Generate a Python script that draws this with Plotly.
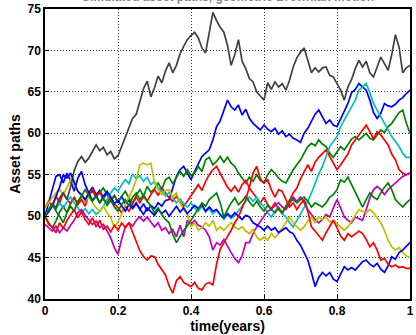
import numpy as np
import plotly.graph_objects as go

# time grid (years), one value per step
t = np.linspace(0, 1, 101)

grey_path = [50, 50.8, 51.5, 51, 52.2, 52.8, 52, 53.5, 55.5, 56.6, 57.2, 56.5, 57, 57.8, 58.6, 57.9, 58.3, 57.4, 57.8, 56.9,
             57.3, 58.4, 59.5, 60.6, 61.8, 62.3, 63.8, 65.4, 66.3, 64.4, 65.5, 66.9, 66.1, 67.5, 68.5, 67.3, 68.2, 69.6, 70.5, 71.3,
             71.8, 72.2, 71.5, 70.3, 69.7, 72.4, 74.6, 73.6, 72.8, 72.2, 70.6, 68.2, 69.5, 71.3, 68.7, 67.8, 66.6, 66.2, 65.0, 64.5,
             64.0, 66.1, 65.3, 66.2, 65.6, 66.0, 65.2, 66.4, 68.0, 69.1, 69.8, 70.3, 68.8, 67.3, 67.9, 67.4, 67.9, 68.0, 67.0, 66.8,
             66.0, 65.2, 64.0, 65.6, 66.5, 67.8, 68.8, 68.0, 68.7, 67.3, 66.8, 68.0, 69.2, 68.4, 67.6, 69.5, 71.9, 70.4, 67.3, 67.9, 68.2]

blue_high = [50, 51.5, 53, 54.8, 55, 54, 55.2, 54.3, 53, 54.6, 55.4, 53.8, 52.8, 53.5, 52.6, 53.1, 52.2, 52.8, 51.8, 52.5,
             51.6, 52.4, 51.5, 51.9, 51, 51.6, 50.8, 51.5, 50.6, 51.3, 50.9, 51.6, 51.2, 51.9, 52, 53.5, 54.8, 55.6, 56, 55.2,
             54.4, 55.4, 56.3, 57.2, 57.6, 58, 59.2, 60.8, 61.5, 62.8, 64, 63.2, 62.8, 63.4, 62.2, 62.9, 61.8, 61.2, 60.8, 60.4,
             61, 60.5, 60.2, 60.6, 59.9, 60.3, 59.6, 59.9, 59.4, 59.2, 58.9, 60, 60.6, 61.4, 62.3, 62.8, 62, 61.2, 61.6, 61,
             60.8, 61.8, 62.8, 63.6, 64.9, 65.3, 66, 65.6, 65.2, 64, 62.5, 61.8, 62.4, 63.6, 63.3, 63.2, 63.5, 64, 64.3, 64.8, 65.2]

blue_low = [50, 50.5, 51.2, 52.4, 53.5, 55, 54.6, 55.2, 54.2, 53, 52.6, 52, 52.8, 51.9, 52.5, 51.6, 52.4, 53, 52.3, 51.5,
            51.9, 51.2, 50.6, 51.4, 50.9, 51.5, 50.8, 50.2, 51, 50.5, 50.1, 50.8, 50.3, 50.7, 50, 50.6, 51.2, 50.5, 51, 50.3,
            50.8, 51.3, 50.9, 51.4, 50.6, 51.1, 50.6, 50.8, 50.2, 49.8, 50.3, 49.9, 50.4, 50, 49.6, 50.1, 49.9, 49.2, 49, 48.7,
            48.3, 48.8, 48.3, 48.6, 48, 48.3, 48.6, 48.1, 47.9, 47.1, 46.5, 45.6, 44.7, 43.2, 41.5, 42.6, 43.2, 42.8, 43.2, 42.4,
            42.1, 43, 43.9, 43.5, 43.8, 43.5, 44, 44.5, 44.7, 44.2, 43.9, 44.3, 43.6, 43.2, 44, 45.1, 44.8, 45.6, 45.9, 46.4, 46.8]

red_low = [50, 49, 48.7, 48, 49.2, 48.5, 49.5, 50.2, 50.8, 49.8, 50.5, 49.6, 49, 49.8, 48.7, 49.5, 48.4, 48.8, 48.1, 48.9,
           48.3, 49.2, 48.6, 49.2, 48, 47, 45.8, 45.1, 44.7, 45.2, 45.1, 44.2, 43.6, 42.9, 41.6, 40.7, 42.2, 42.7, 42, 41.8,
           41.5, 42, 41.3, 41.1, 41.8, 42, 41.7, 44.2, 46, 46.8, 47.5, 48.3, 49.2, 49.9, 51, 52, 53.5, 55.2, 56, 54.5,
           54, 54.4, 53.2, 52.3, 53.2, 53, 52, 51.1, 51.6, 50.8, 51.5, 52, 50.6, 48.7, 48.2, 47.6, 47.1, 48, 48.7, 49.5,
           48.6, 47.6, 47.1, 47.9, 47.5, 47.9, 48.2, 47.9, 47.2, 46.3, 46.8, 45.9, 44.7, 44.9, 44.2, 43.9, 44.1, 43.8, 43.9, 43.7, 43.7]

red_high = [51, 51.8, 51.2, 52.4, 51.6, 52.8, 52.1, 51.5, 52.3, 51.4, 52, 51.2, 52.6, 53.2, 52.4, 52.9, 52, 51.6, 52.3, 51.5,
            51, 50.4, 51.2, 50.6, 51.5, 52.3, 51.6, 52.4, 51.8, 52.6, 53.2, 52.5, 53.4, 52.8, 52.2, 51.8, 52.4, 51.7, 51.2, 51.8,
            52.5, 53.2, 53.8, 53.1, 54.2, 55, 55.6, 56, 55.1, 54.2, 53.5, 53, 53.6, 52.9, 53.8, 54.3, 53.4, 52.8, 52.2, 51.6,
            52.3, 51.4, 50.9, 51.6, 50.8, 50.3, 51.2, 51.9, 52.8, 53.4, 54.5, 55.3, 56.2, 55.4, 56.5, 57.1, 57.6, 58, 57.2, 56.3,
            55.6, 56.2, 56.8, 57.5, 58.6, 59.2, 59.8, 60.4, 61, 60.2, 59.3, 60.2, 59.8, 59.2, 58.6, 57.5, 56.8, 55.6, 55.2, 55, 55.2]

green_high = [50, 49.2, 48.6, 49.4, 50.5, 51.2, 50.4, 51.6, 52.2, 51.4, 52.6, 51.8, 52.5, 53.1, 52.3, 52.8, 53.4, 52.6, 51.9, 52.5,
              51.7, 52.4, 53, 52.2, 51.6, 52.5, 53.2, 52.4, 53.6, 52.9, 53.3, 54, 53.2, 54.4, 54.7, 53.9, 54.6, 55.4, 54.8, 55.6,
              54.9, 55.2, 56, 55.4, 56.8, 57.1, 56.2, 56.6, 57.2, 56.5, 57.1, 56.4, 56, 55.2, 54.6, 54, 54.7, 54.2, 55, 54.3,
              54, 55, 55.6, 55.2, 54.6, 54.2, 54, 54.9, 55.6, 56.2, 56.8, 57.6, 58.4, 58.8, 58.5, 59.2, 58.7, 58.4, 57.6, 57.1,
              57.8, 58.4, 58, 58.6, 59.3, 59.6, 59.2, 59.6, 60, 59.4, 59.2, 59.8, 60.4, 60.1, 60.8, 61.2, 61.9, 62.5, 62.8, 61.2, 60]

green_low = [50, 50.8, 51.5, 50.6, 50, 49.2, 50.4, 51.2, 50.6, 51.8, 52.4, 53.2, 52.5, 51.8, 52.4, 51.6, 52.2, 51.3, 51.9, 51.1,
             50.6, 51.4, 52, 51.2, 52.3, 52.8, 52, 52.6, 51.8, 51.2, 50.4, 51, 50.2, 49.6, 49.2, 47.8, 46.8, 47.6, 48.3, 48.8,
             49.5, 50.2, 50.9, 51.6, 51.2, 52, 52.4, 52.8, 51.6, 49.9, 50.8, 51.6, 52.2, 51.4, 51.8, 52.4, 51.7, 51.2, 51.8, 51.1,
             50.6, 51.3, 50.8, 50.4, 51, 50.4, 51.2, 51.9, 52, 51.6, 52, 52.3, 51.8, 51.1, 51.6, 51.3, 51.1, 51.6, 52.3, 52.6,
             53.2, 54.4, 54.1, 54.7, 53.8, 52.8, 52, 51.1, 52, 52.8, 52.3, 52, 52.8, 53.5, 54, 53.2, 52, 51.5, 51.1, 51.6, 52]

cyan_path = [50, 50.6, 51.4, 50.8, 51.6, 51, 51.7, 52.3, 51.6, 51, 50.4, 50.9, 50.3, 50.8, 50.2, 50.6, 51.2, 52, 52.8, 53.4,
             53, 53.8, 54.4, 53.9, 55.1, 54.5, 54.9, 54.2, 54.7, 53.8, 54.2, 53.4, 53, 52.4, 52.9, 52.2, 51.6, 52.1, 51.5, 51.1,
             51.6, 51, 50.6, 51.2, 50.5, 50.9, 50.3, 50.7, 50.1, 49.6, 50.2, 49.7, 50.1, 50.6, 51.2, 51.8, 52.3, 51.8, 52.3, 51.6,
             51.1, 50.4, 49.9, 50.6, 51.1, 50.3, 49.9, 49.2, 48.7, 49.5, 50.3, 51.1, 51.8, 52.8, 54, 55.1, 56, 57.2, 58.4, 59,
             59.6, 60.8, 61.6, 62.5, 63.3, 64, 65.2, 65.6, 66, 64.9, 63.6, 62.8, 62, 61.2, 60.4, 59.6, 59, 58.4, 57.6, 57.1, 57.1]

magenta_path = [49, 48.6, 48.2, 48.8, 48, 48.6, 48.2, 48.9, 49.5, 50.4, 50.8, 50.1, 49.6, 49, 49.4, 48.6, 49, 48.2, 47.4, 46.2,
                45.4, 47.2, 48.7, 49.2, 48.8, 49.5, 49.9, 49.4, 49.9, 49.3, 48.7, 49.2, 48.3, 48.6, 47.9, 48.4, 47.5, 48.9, 47.5, 49.5,
                49, 49.5, 48.9, 48.7, 48.3, 47.5, 45.9, 46.8, 46.5, 47.2, 46.3, 45.6, 44.9, 44.4, 45.2, 46.8, 46.8, 47.9, 48.7, 49.4,
                50, 50.6, 50.8, 51.3, 51.6, 51.1, 50.8, 51.5, 52.3, 51.8, 52.3, 51.6, 50.8, 50.2, 49.6, 49.2, 49.6, 50.2, 49.9, 51,
                52, 51, 49.9, 49.5, 49.2, 49.9, 49.7, 49.5, 50.8, 52.2, 53.2, 53.6, 53.2, 52.6, 53.2, 53.6, 54, 54.4, 54.8, 55, 55.2]

yellow_path = [51, 51.6, 52.3, 52.8, 53.2, 52.6, 53.4, 54.4, 53.8, 53, 52.4, 51.8, 52.3, 51.6, 51, 50.6, 51.2, 50.4, 49.8, 48.7,
               49.3, 50.2, 51.4, 52.3, 53.2, 54.4, 56.2, 56.4, 56.2, 56.4, 54, 53.2, 52.6, 53.1, 53.2, 52.3, 52.8, 51.6, 50.8, 50.2,
               48.7, 49.2, 48.3, 48.6, 49.2, 48.8, 49.5, 48.3, 48.7, 48.3, 48.7, 49.2, 48.7, 48.4, 48.7, 48.2, 47.9, 48.4, 47.5, 47.1,
               47.5, 47.1, 47.9, 47.4, 47.9, 48.6, 49.2, 49.9, 49.2, 48.7, 48.3, 48.7, 49.4, 49.9, 49.2, 49.9, 49.6, 49.9, 49.3, 49.5,
               49.1, 48.7, 48.3, 48.7, 49.4, 50.1, 50.8, 50.6, 50.4, 50.8, 50.4, 49.8, 49.2, 48.3, 47.1, 46.3, 45.9, 46.2, 45.6, 45.2, 45]

# drawing order and line colours (classic MATLAB colour cycle)
paths = [
    (blue_high, "#0000ff"),
    (green_high, "#008000"),
    (red_high, "#ff0000"),
    (cyan_path, "#00bfbf"),
    (magenta_path, "#bf00bf"),
    (yellow_path, "#bfbf00"),
    (grey_path, "#404040"),
    (blue_low, "#0000ff"),
    (green_low, "#008000"),
    (red_low, "#ff0000"),
]

x_ticks = [0, 0.2, 0.4, 0.6, 0.8, 1]
x_tick_text = ["0", "0.2", "0.4", "0.6", "0.8", "1"]
y_ticks = [40, 45, 50, 55, 60, 65, 70, 75]

FONT = "Arial, Liberation Sans, Helvetica, sans-serif"

fig = go.Figure()
for values, colour in paths:
    fig.add_trace(go.Scatter(x=t, y=values, mode="lines",
                             line=dict(color=colour, width=1.7),
                             showlegend=False, hoverinfo="skip"))

axis_common = dict(
    showline=True, mirror=True, linecolor="black", linewidth=1.5,
    showgrid=True, gridcolor="#333333", gridwidth=1, griddash="1px,2px",
    ticks="inside", ticklen=4, tickcolor="black", zeroline=False,
    tickfont=dict(family=FONT, size=12, color="black", weight="bold"),
)

fig.update_xaxes(range=[0, 1], tickvals=x_ticks, ticktext=x_tick_text,
                 title=dict(text="time(years)", standoff=2,
                            font=dict(family=FONT, size=14, color="black", weight="bold")),
                 **axis_common)
fig.update_yaxes(range=[40, 75], tickvals=y_ticks,
                 title=dict(text="Asset paths", standoff=4,
                            font=dict(family=FONT, size=14, color="black", weight="bold")),
                 **axis_common)

# chart title, sitting right at the top edge of the page
fig.add_annotation(text="Simulated asset paths, geometric Brownian motion",
                   xref="paper", yref="paper", x=0.5, y=1, xanchor="center", yanchor="bottom",
                   yshift=3, showarrow=False,
                   font=dict(family=FONT, size=12, color="#888888", weight="bold"))

fig.update_layout(
    width=416, height=335,
    margin=dict(l=45, r=2, t=9, b=36),
    paper_bgcolor="white", plot_bgcolor="white",
)

fig.write_html("out.html")
